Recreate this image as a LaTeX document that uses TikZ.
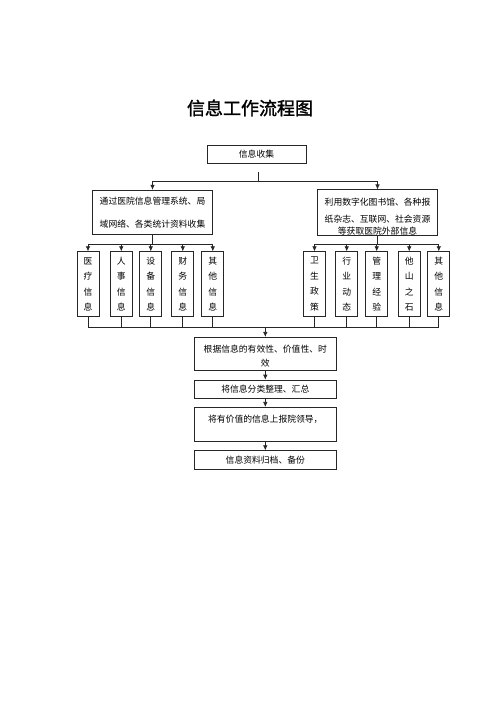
\documentclass[tikz,border=0pt]{standalone}
\usepackage{fontspec}
\setmainfont{Noto Sans CJK SC}
\newfontfamily\titlefont{Noto Sans CJK SC}[FakeBold=1.5]
\usetikzlibrary{positioning}
\usetikzlibrary{calc}
\usetikzlibrary{arrows.meta}

\begin{document}
\begin{tikzpicture}[x=1pt, y=-1pt]
% -------------------------------------------------
\tikzset{
  base/.style={draw=black!85, line width=0.7pt, align=center, inner sep=0pt},
  src/.style={base, minimum width=120.5pt, minimum height=44.5pt, font=\fontsize{8.8}{10.5}\selectfont},
  item/.style={base, minimum width=22pt, minimum height=65pt, font=\fontsize{8.8}{15.5}\selectfont},
  proc/.style={base, minimum width=142.5pt, font=\fontsize{8.8}{14.3}\selectfont},
  link/.style={draw=black!85, line width=0.7pt},
  line/.style={link, -{Latex[length=5pt,width=4.5pt]}}
}
% -------------------------------------------------
\useasboundingbox (0,0) rectangle (500,708);

\node[font=\titlefont\fontsize{18}{20}\selectfont] (title) at (250,108) {信息工作流程图};
\node[proc, minimum width=99pt, minimum height=18pt] (collect) at (256.5,154) {信息收集};

% two kinds of sources
\node[src, font=\fontsize{8.8}{22.7}\selectfont] (inner) at (152.5,212.5)
  {通过医院信息管理系统、局\\域网络、各类统计资料收集};
\node[src] (outer) at (377.5,212.7)
  {\rule{0pt}{16pt}利用数字化图书馆、各种报\\[5.8pt]纸杂志、互联网、社会资源\\[2.2pt]等获取医院外部信息};

% single items
\foreach \x/\t [count=\i] in {88/医\\疗\\信\\息, 121.3/人\\事\\信\\息, 150.8/设\\备\\信\\息,
                             182.8/财\\务\\信\\息, 212.8/其\\他\\信\\息}
  \node[item] (l\i) at (\x,284.2) {\t};
\foreach \x/\t [count=\i] in {314.5/卫\\生\\政\\策, 346.7/行\\业\\动\\态, 376.7/管\\理\\经\\验,
                             409.2/他\\山\\之\\石, 438.8/其\\他\\信\\息}
  \node[item] (r\i) at (\x,284.2) {\t};

% processing steps
\node[proc, minimum height=32.7pt] (f1) at (265.3,353.6) {\rule{0pt}{12.9pt}根据信息的有效性、价值性、时\\效};
\node[proc, minimum height=18.3pt] (f2) at (265.3,389.2) {将信息分类整理、汇总};
\node[proc, minimum height=34.4pt, text depth=11.5pt] (f3) at (265.3,424.5) {将有价值的信息上报院领导，};
\node[proc, minimum height=18.6pt] (f4) at (265.3,460) {信息资料归档、备份};

% junctions
\coordinate (stem) at (258.5,172);
\coordinate (split) at (258.5,181.5);
\coordinate (lbus) at (152.5,244);
\coordinate (rbus) at (377.5,244);
\coordinate (merge) at (265.3,327.3);

\path [link] (stem) -- (split);
\path [line] (split) -| (inner.north);
\path [line] (split) -| (outer.north);
\path [link] (inner.south) -- (lbus);
\path [link] (outer.south) -- (rbus);
\foreach \i in {1,...,5} {
  \path [line] (lbus) -| (l\i.north);
  \path [line] (rbus) -| (r\i.north);
  \path [link] (l\i.south) |- (merge);
  \path [link] (r\i.south) |- (merge);
}
\path [line] (merge) -- (f1);
\path [line] (f1) -- (f2);
\path [line] (f2) -- (f3);
\path [line] (f3) -- (f4);

\end{tikzpicture}
\end{document}
